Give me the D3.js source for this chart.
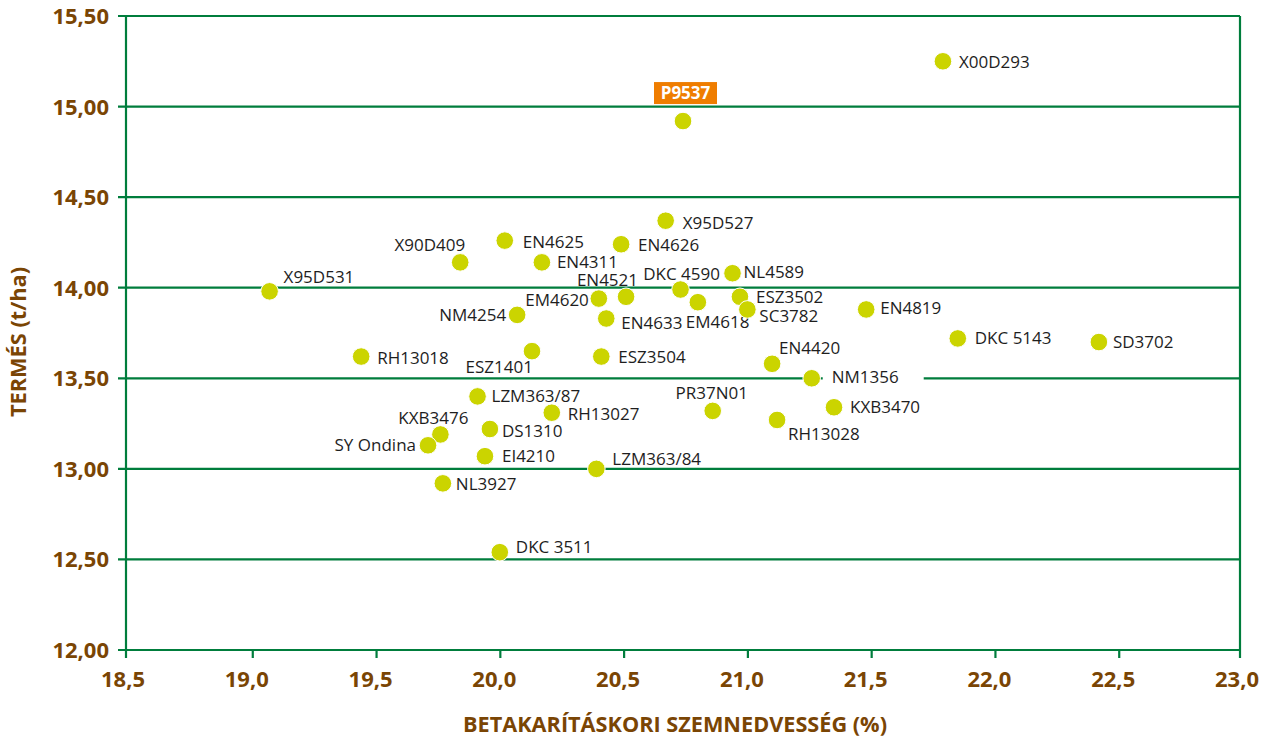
<!doctype html>
<html lang="hu">
<head>
  <meta charset="utf-8">
  <title>Termés és betakarításkori szemnedvesség</title>
  <script src="https://d3js.org/d3.v7.min.js"></script>
  <style>
    body { margin: 0; background: #fff; }
    .tick-label { font-family: "Open Sans", sans-serif; font-weight: bold; font-size: 22px; fill: #7a4504; }
    .axis-title { font-family: "Open Sans", sans-serif; font-weight: bold; font-size: 22px; fill: #7a4504; }
    .pt-label { font-family: "Open Sans", sans-serif; font-size: 17px; fill: #1e1e1e; }
  </style>
</head>
<body>
<div id="chart"></div>
<script>
// hybrids, moisture at harvest (%) and yield (t/ha)
var names = ["X00D293", "P9537", "X95D527", "EN4625", "EN4626", "X90D409", "EN4311", "NL4589",
  "X95D531", "DKC 4590", "EM4620", "EN4521", "ESZ3502", "EM4618", "SC3782", "EN4819",
  "NM4254", "EN4633", "DKC 5143", "SD3702", "ESZ1401", "RH13018", "ESZ3504", "EN4420",
  "NM1356", "LZM363/87", "PR37N01", "KXB3470", "RH13027", "RH13028", "DS1310", "KXB3476",
  "SY Ondina", "EI4210", "LZM363/84", "NL3927", "DKC 3511"];
var moisture = [21.80, 20.75, 20.68, 20.03, 20.50, 19.85, 20.18, 20.95,
  19.08, 20.74, 20.41, 20.52, 20.98, 20.81, 21.01, 21.49,
  20.08, 20.44, 21.86, 22.43, 20.14, 19.45, 20.42, 21.11,
  21.27, 19.92, 20.87, 21.36, 20.22, 21.13, 19.97, 19.77,
  19.72, 19.95, 20.40, 19.78, 20.01];
var yieldT = [15.25, 14.92, 14.37, 14.26, 14.24, 14.14, 14.14, 14.08,
  13.98, 13.99, 13.94, 13.95, 13.95, 13.92, 13.88, 13.88,
  13.85, 13.83, 13.72, 13.70, 13.65, 13.62, 13.62, 13.58,
  13.50, 13.40, 13.32, 13.34, 13.31, 13.27, 13.22, 13.19,
  13.13, 13.07, 13.00, 12.92, 12.54];
var xTicks = [18.5, 19.0, 19.5, 20.0, 20.5, 21.0, 21.5, 22.0, 22.5, 23.0];
var yTicks = [12.0, 12.5, 13.0, 13.5, 14.0, 14.5, 15.0, 15.5];
var highlighted = "P9537";

// label placement relative to its dot: [dx, dy, anchor]; default is to the right
var labelOffset = {
  "X00D293": [16, 7, "start"], "X95D527": [17, 8, "start"], "EN4625": [18, 7, "start"],
  "EN4626": [17, 7, "start"], "X90D409": [5, -11, "end"], "EN4311": [15, 6, "start"],
  "NL4589": [11, 5, "start"], "X95D531": [14, -8, "start"], "DKC 4590": [1, -10, "middle"],
  "EM4620": [-10, 7, "end"], "EN4521": [12, -11, "end"], "ESZ3502": [16, 6, "start"],
  "EM4618": [-12, 26, "start"], "SC3782": [12, 13, "start"], "EN4819": [14, 5, "start"],
  "NM4254": [-11, 6, "end"], "EN4633": [15, 10, "start"], "DKC 5143": [17, 6, "start"],
  "SD3702": [14, 6, "start"], "ESZ1401": [1, 22, "end"], "RH13018": [16, 7, "start"],
  "ESZ3504": [17, 6, "start"], "EN4420": [7, -10, "start"], "NM1356": [20, 5, "start"],
  "LZM363/87": [14, 6, "start"], "PR37N01": [-1, -12, "middle"], "KXB3470": [16, 6, "start"],
  "RH13027": [16, 7, "start"], "RH13028": [11, 20, "start"], "DS1310": [12, 8, "start"],
  "KXB3476": [28, -10, "end"], "SY Ondina": [-12, 6, "end"], "EI4210": [17, 6, "start"],
  "LZM363/84": [16, -4, "start"], "NL3927": [13, 7, "start"], "DKC 3511": [16, 1, "start"]
};

var W = 1268, H = 738;
var pLeft = 126, pRight = 1240, pTop = 16, pBottom = 650;

var x = d3.scaleLinear().domain([18.5, 23]).range([pLeft, pRight]);
var y = d3.scaleLinear().domain([12, 15.5]).range([pBottom, pTop]);
var fmt = d3.format(".1f"), fmt2 = d3.format(".2f");
var comma = function (s) { return s.replace(".", ","); };

var svg = d3.select("#chart").append("svg")
  .attr("width", W).attr("height", H);

var green = "#007d3c";

// horizontal grid
svg.append("g").selectAll("line").data(yTicks).enter().append("line")
  .attr("x1", pLeft - 8).attr("x2", pRight)
  .attr("y1", function (d) { return y(d); }).attr("y2", function (d) { return y(d); })
  .attr("stroke", green).attr("stroke-width", 2.2);

// axis lines
svg.append("line").attr("x1", pLeft).attr("x2", pLeft).attr("y1", pTop).attr("y2", pBottom + 8)
  .attr("stroke", green).attr("stroke-width", 2.2);
svg.append("line").attr("x1", pRight).attr("x2", pRight).attr("y1", pTop).attr("y2", pBottom + 8)
  .attr("stroke", green).attr("stroke-width", 2.2);

// x ticks
svg.append("g").selectAll("line").data(xTicks.slice(1, -1)).enter().append("line")
  .attr("x1", function (d) { return x(d) + 3; }).attr("x2", function (d) { return x(d) + 3; })
  .attr("y1", pBottom).attr("y2", pBottom + 8)
  .attr("stroke", green).attr("stroke-width", 2.2);

svg.append("g").selectAll("text").data(xTicks).enter().append("text")
  .attr("class", "tick-label")
  .attr("x", function (d) { return x(d) - 3; }).attr("y", 687)
  .attr("text-anchor", "middle")
  .text(function (d) { return comma(fmt(d)); });

svg.append("g").selectAll("text").data(yTicks).enter().append("text")
  .attr("class", "tick-label")
  .attr("x", 109).attr("y", function (d) { return y(d) + 8; })
  .attr("text-anchor", "end")
  .text(function (d) { return comma(fmt2(d)); });

// axis titles
svg.append("text").attr("class", "axis-title")
  .attr("x", 675).attr("y", 732).attr("text-anchor", "middle")
  .attr("textLength", 424).attr("lengthAdjust", "spacingAndGlyphs")
  .text("BETAKARÍTÁSKORI SZEMNEDVESSÉG (%)");
svg.append("text").attr("class", "axis-title")
  .attr("transform", "translate(26,342) rotate(-90)").attr("text-anchor", "middle")
  .attr("textLength", 150).attr("lengthAdjust", "spacingAndGlyphs")
  .text("TERMÉS (t/ha)");

var pts = names.map(function (n, i) { return { name: n, mx: moisture[i], yt: yieldT[i] }; });

// labels (NM1356 sits on a white box, P9537 is highlighted)
var lab = svg.append("g");
pts.forEach(function (d) {
  var px = x(d.mx), py = y(d.yt);
  if (d.name === highlighted) {
    lab.append("rect").attr("x", px - 29).attr("y", py - 39)
      .attr("width", 63).attr("height", 22).attr("fill", "#ef7d00");
    lab.append("text").attr("x", px + 2.5).attr("y", py - 22)
      .attr("text-anchor", "middle")
      .style("font-family", "Open Sans, sans-serif").style("font-weight", "bold")
      .style("font-size", "17px").style("fill", "#fff").text(d.name);
    return;
  }
  var o = labelOffset[d.name] || [15, 6, "start"];
  var txt = lab.append("text").attr("class", "pt-label")
    .attr("x", px + o[0]).attr("y", py + o[1])
    .attr("text-anchor", o[2]).text(d.name);
  if (d.name === "NM1356") {
    var b = txt.node().getBBox();
    lab.insert("rect", "text").attr("x", b.x - 9).attr("y", b.y)
      .attr("width", b.width + 34).attr("height", b.height).attr("fill", "#fff");
  }
});

// dots
svg.append("g").selectAll("circle").data(pts).enter().append("circle")
  .attr("cx", function (d) { return x(d.mx); })
  .attr("cy", function (d) { return y(d.yt); })
  .attr("r", 8.8)
  .attr("fill", "#cbd400")
  .attr("stroke", "#fff").attr("stroke-width", 1);
</script>
</body>
</html>
